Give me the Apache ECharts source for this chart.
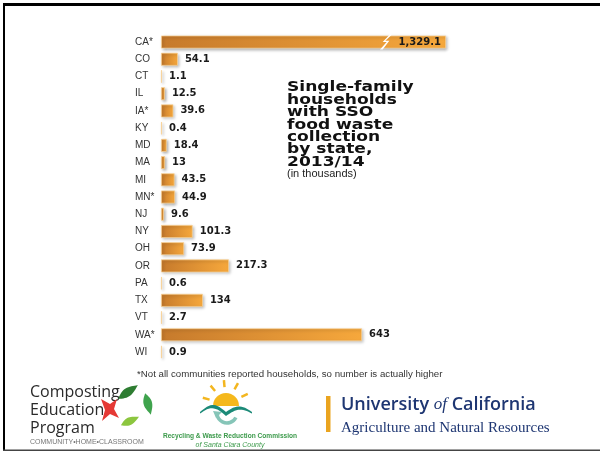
<!DOCTYPE html>
<html><head><meta charset="utf-8">
<script src="https://cdn.jsdelivr.net/npm/echarts@6/dist/echarts.min.js"></script>
<style>html,body{margin:0;padding:0;background:#fff}#c{width:600px;height:452px}</style>
</head><body><div id="c"></div>
<script>
const states = ['CA*','CO','CT','IL','IA*','KY','MD','MA','MI','MN*','NJ','NY','OH','OR','PA','TX','VT','WA*','WI'];
const households = [1329.1,54.1,1.1,12.5,39.6,0.4,18.4,13,43.5,44.9,9.6,101.3,73.9,217.3,0.6,134,2.7,643,0.9];
const titleLines = ['Single-family','households','with SSO','food waste','collection','by state,','2013/14'];
const unitNote = '(in thousands)';
const footnote = '*Not all communities reported households, so number is actually higher';
const axisBreak = {start: 707, end: 1150};

const chart = echarts.init(document.getElementById('c'), null, {renderer:'canvas'});
const fmt = new Intl.NumberFormat('en-US', {maximumFractionDigits: 1});

function leaf(cx, cy, len, wid, angDeg) {
  const pts = [], n = 16, a = angDeg * Math.PI / 180, ca = Math.cos(a), sa = Math.sin(a);
  const push = (u, v) => pts.push([cx + u * ca - v * sa, cy + u * sa + v * ca]);
  for (let i = 0; i <= n; i++) { const t = i / n; push((t - 0.5) * len, -wid / 2 * Math.sin(Math.PI * t) * (1 - 0.3 * t)); }
  for (let i = n; i >= 0; i--) { const t = i / n; push((t - 0.5) * len, wid / 2 * Math.sin(Math.PI * t) * (1 - 0.3 * t)); }
  return pts;
}
function wave(x0, x1, yBase, amp, thick) {
  const top = [], bot = [], n = 30;
  for (let i = 0; i <= n; i++) {
    const t = i / n, x = x0 + (x1 - x0) * t;
    const y = yBase - amp * Math.abs(Math.sin(Math.PI * 2 * t)) * (t < 0.5 ? 1 : 0.8);
    top.push([x, y]); bot.push([x, y + thick * (0.4 + 0.6 * Math.sin(Math.PI * t))]);
  }
  return top.concat(bot.reverse());
}

const barData = households.map(v => v > axisBreak.end
  ? {value: v, label: {position: 'insideRight', distance: 5}}
  : v);

const graphics = [
  {type:'rect', shape:{x:3, y:3, width:600, height:3}, style:{fill:'#000'}, z:100},
  {type:'rect', shape:{x:3, y:3, width:2, height:448}, style:{fill:'#000'}, z:100},
  {type:'rect', shape:{x:3, y:449.5, width:600, height:1.5}, style:{fill:'#444'}, z:100},
  {type:'text', x:287, y:81.5, z:50, scaleX:1.22, style:{text:titleLines.join('\n'), font:'bold 14px "DejaVu Sans"', lineHeight:12.4, fill:'#111', textVerticalAlign:'top'}},
  {type:'text', x:287, y:168.5, z:50, style:{text:unitNote, font:'11px "Liberation Sans"', fill:'#222', textVerticalAlign:'top'}},
  {type:'text', x:137, y:370, z:50, scaleX:1.14, style:{text:footnote, font:'8.5px "Liberation Sans"', fill:'#333', textVerticalAlign:'top'}},
  {type:'text', x:30, y:383, style:{text:'Composting\nEducation\nProgram', font:'16px "Open Sans"', lineHeight:18, fill:'#2a2a2a', textVerticalAlign:'top'}},
  {type:'text', x:30, y:439, style:{text:'COMMUNITY\u2022HOME\u2022CLASSROOM', font:'7px "Liberation Sans"', fill:'#777', textVerticalAlign:'top'}},
  {type:'polygon', shape:{points:leaf(128, 392, 24, 10, -35)}, style:{fill:'#2e7d32'}},
  {type:'polygon', shape:{points:leaf(148, 404, 22, 10, 75)}, style:{fill:'#3fa34d'}},
  {type:'polygon', shape:{points:leaf(130, 421, 20, 9, -25)}, style:{fill:'#8cc63f'}},
  {type:'polygon', shape:{points:[[101,399],[110,404],[117,399],[114,409],[119,418],[110,414],[102,421],[105,410]]}, style:{fill:'#e53935'}},
  ...[-165,-130,-95,-60,-25].map(d => {
    const a = d * Math.PI / 180;
    return {type:'line', shape:{x1:226 + 17 * Math.cos(a), y1:404 + 17 * Math.sin(a), x2:226 + 24 * Math.cos(a), y2:404 + 24 * Math.sin(a)}, style:{stroke:'#f3b61f', lineWidth:2.5}};
  }),
  {type:'sector', shape:{cx:226, cy:406, r0:0, r:13, startAngle:Math.PI, endAngle:2 * Math.PI}, style:{fill:'#f5b81c'}},
  {type:'polygon', shape:{points:wave(200, 252, 412, 7, 4)}, style:{fill:'#1c8a78'}},
  {type:'arc', shape:{cx:227, cy:413, r:10, startAngle:0.15 * Math.PI, endAngle:0.95 * Math.PI}, style:{stroke:'#86c5b8', lineWidth:3.5, fill:null}},
  {type:'polygon', shape:{points:[[213,411],[222,412],[216,418]]}, style:{fill:'#86c5b8'}},
  {type:'text', x:230, y:436, style:{text:'Recycling & Waste Reduction Commission', font:'bold 6.6px "Liberation Sans"', fill:'#3c9a4b', textAlign:'center', textVerticalAlign:'middle'}},
  {type:'text', x:230, y:445, style:{text:'of Santa Clara County', font:'italic 7px "Liberation Sans"', fill:'#3c9a4b', textAlign:'center', textVerticalAlign:'middle'}},
  {type:'rect', shape:{x:326, y:396, width:4.5, height:36}, style:{fill:'#eaa41f'}},
  {type:'text', x:341, y:405, style:{text:'{a|University }{b|of}{a| California}', rich:{a:{font:'600 18px "Open Sans"', fill:'#1e3672'}, b:{font:'italic 17px "Liberation Serif"', fill:'#1e3672'}}, textVerticalAlign:'middle'}},
  {type:'text', x:341, y:428, style:{text:'Agriculture and Natural Resources', font:'15px "Liberation Serif"', fill:'#1e3672', textVerticalAlign:'middle'}}
];

chart.setOption({
  animation: false,
  grid: {left:161, top:33.4, width:285, height:327.2, containLabel:false},
  xAxis: {
    type:'value', min:0, max:1329.1,
    breaks:[{start:axisBreak.start, end:axisBreak.end, gap:'2.8%'}],
    breakArea:{show:false},
    axisLine:{show:false}, axisTick:{show:false}, axisLabel:{show:false}, splitLine:{show:false}
  },
  yAxis: {
    type:'category', data:states, inverse:true,
    axisLine:{show:false}, axisTick:{show:false}, splitLine:{show:false},
    axisLabel:{align:'left', margin:26, color:'#333', fontSize:10, fontFamily:'Liberation Sans'}
  },
  series: [{
    type:'bar', data:barData, barWidth:13, barMinHeight:1,
    itemStyle:{
      color:new echarts.graphic.LinearGradient(0,0,1,0,[{offset:0,color:'#c67a2c'},{offset:1,color:'#f6a83c'}]),
      borderColor:'rgba(250,210,150,0.9)', borderWidth:0.8,
      shadowBlur:3, shadowColor:'rgba(0,0,0,0.3)', shadowOffsetX:1.5, shadowOffsetY:1.5
    },
    label:{show:true, position:'right', distance:7, color:'#1a1a1a', fontSize:10, fontWeight:'bold', fontFamily:'DejaVu Sans',
      formatter: p => fmt.format(p.value)},
    markPoint:{
      silent:true, label:{show:false},
      data:[{coord:[(axisBreak.start + axisBreak.end) / 2, states[0]], symbol:'path://M11,0 L3,8.5 L7.5,8.5 L0,17 L3,17 L10.5,7 L6,7 L13.5,0 Z', symbolSize:[12,15], itemStyle:{color:'#fff', shadowBlur:0}}]
    }
  }],
  graphic: graphics
});
</script></body></html>
